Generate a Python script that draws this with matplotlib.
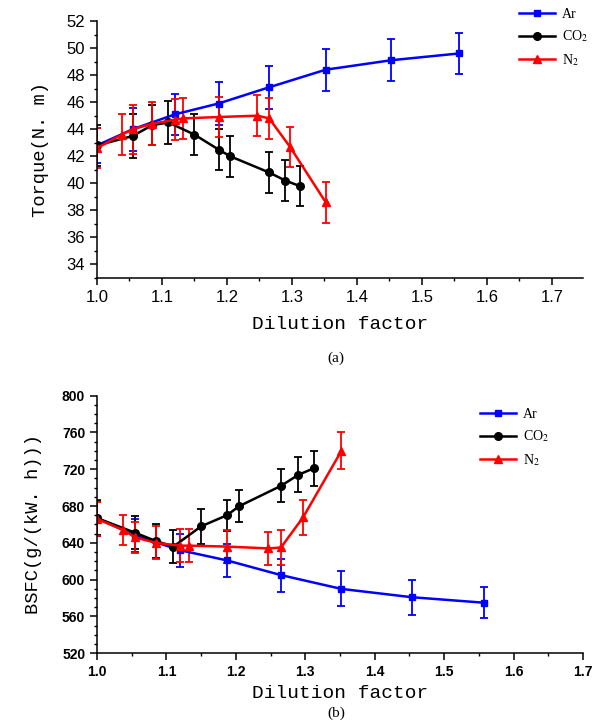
import matplotlib
matplotlib.use("Agg")
from matplotlib import pyplot as plt
from matplotlib.lines import Line2D
from matplotlib.ticker import MultipleLocator

plt.rcParams['mathtext.fontset'] = 'stix'

# (a) torque
ar_x = [1.0, 1.055, 1.12, 1.187, 1.265, 1.352, 1.453, 1.557]
ar_torque = [42.8, 44.0, 45.1, 45.9, 47.1, 48.4, 49.1, 49.6]
ar_torque_err = [1.3, 1.6, 1.5, 1.6, 1.6, 1.55, 1.55, 1.5]

co2_x = [1.0, 1.055, 1.085, 1.11, 1.15, 1.187, 1.205, 1.265, 1.29, 1.312]
co2_torque = [42.8, 43.5, 44.3, 44.5, 43.6, 42.5, 42.0, 40.8, 40.2, 39.8]
co2_torque_err = [1.5, 1.6, 1.5, 1.6, 1.5, 1.5, 1.5, 1.5, 1.5, 1.5]

n2_x = [1.0, 1.038, 1.055, 1.085, 1.12, 1.133, 1.187, 1.247, 1.265, 1.297, 1.352]
n2_torque = [42.6, 43.6, 44.0, 44.4, 44.7, 44.8, 44.9, 45.0, 44.8, 42.7, 38.6]
n2_torque_err = [1.5, 1.5, 1.8, 1.6, 1.5, 1.5, 1.5, 1.5, 1.5, 1.5, 1.5]

# (b) BSFC
ar_bsfc = [667, 648, 632, 621, 605, 590, 581, 575]
ar_bsfc_err = [20, 18, 18, 18, 18, 19, 19, 17]

co2_bsfc = [667, 651, 642, 636, 658, 670, 680, 702, 714, 721]
co2_bsfc_err = [18, 18, 18, 18, 19, 17, 17, 18, 19, 19]

n2_bsfc = [666, 654, 646, 640, 637, 637, 636, 634, 635, 668, 740]
n2_bsfc_err = [18, 16, 17, 18, 18, 18, 18, 18, 19, 19, 20]

series = [
    ("Ar", "#0000ff", "s", 4.5),
    ("CO$_2$", "black", "o", 5.5),
    ("N$_2$", "#ff0000", "^", 6),
]

label_font = dict(family="Liberation Mono", fontsize=14)


def draw(ax, xs, ys, errs):
    handles = []
    for (name, color, marker, ms), x, y, e in zip(series, xs, ys, errs):
        ax.errorbar(x, y, yerr=e, color=color, marker=marker, markersize=ms,
                    linewidth=1.8, elinewidth=1.3, capsize=3.2, capthick=1.3)
        handles.append(Line2D([], [], color=color, marker=marker,
                              markersize=ms, linewidth=1.8, label=name))
    for side in ("top", "right"):
        ax.spines[side].set_visible(False)
    for side in ("left", "bottom"):
        ax.spines[side].set_linewidth(1.1)
    ax.tick_params(which="major", direction="out", length=5, width=1.1)
    ax.tick_params(which="minor", direction="out", length=2.5, width=1.0)
    ax.xaxis.set_major_locator(MultipleLocator(0.1))
    ax.xaxis.set_minor_locator(MultipleLocator(0.05))
    return handles


def add_legend(ax, handles, x, y):
    ax.legend(handles=handles, loc="upper left", bbox_to_anchor=(x, y),
              bbox_transform=fig.transFigure, frameon=False, borderpad=0,
              borderaxespad=0, handlelength=2.6, handletextpad=0.5,
              labelspacing=0.55, numpoints=1,
              prop=dict(family="Liberation Serif", size=10))


fig = plt.figure(figsize=(5.92, 7.26), dpi=100)

ax1 = fig.add_axes([97 / 592, 1 - 278 / 726, 486 / 592, 257 / 726])
h = draw(ax1, [ar_x, co2_x, n2_x], [ar_torque, co2_torque, n2_torque],
         [ar_torque_err, co2_torque_err, n2_torque_err])
ax1.set_xlim(1.0, 1.748)
ax1.set_ylim(33, 52)
ax1.yaxis.set_major_locator(MultipleLocator(2))
ax1.yaxis.set_minor_locator(MultipleLocator(1))
ax1.set_yticks(range(34, 53, 2))
ax1.set_xlabel("Dilution factor", **label_font, labelpad=8)
ax1.set_ylabel("Torque(N. m)", fontsize=13.5, family="Liberation Mono",
               labelpad=13)
for lab in ax1.get_xticklabels() + ax1.get_yticklabels():
    lab.set_fontfamily("Liberation Sans")
    lab.set_fontsize(12)
add_legend(ax1, h, 519 / 592, 1 - 8 / 726)

ax2 = fig.add_axes([97 / 592, 1 - 653.3 / 726, 486 / 592, 257.6 / 726])
h = draw(ax2, [ar_x, co2_x, n2_x], [ar_bsfc, co2_bsfc, n2_bsfc],
         [ar_bsfc_err, co2_bsfc_err, n2_bsfc_err])
ax2.set_xlim(1.0, 1.7)
ax2.set_ylim(520, 800)
ax2.yaxis.set_major_locator(MultipleLocator(40))
ax2.yaxis.set_minor_locator(MultipleLocator(10))
ax2.set_xlabel("Dilution factor", **label_font, labelpad=4)
ax2.set_ylabel("BSFC(g/(kW. h)))", fontsize=13.5, family="Liberation Mono",
               labelpad=14)
for lab in ax2.get_xticklabels() + ax2.get_yticklabels():
    lab.set_fontfamily("Liberation Sans")
    lab.set_fontsize(10)
    lab.set_fontweight("bold")
add_legend(ax2, h, 480 / 592, 1 - 408 / 726)

fig.text(336 / 592, 1 - 358 / 726, "(a)", ha="center", va="center",
         family="Liberation Serif", fontsize=11)
fig.text(336 / 592, 1 - 713 / 726, "(b)", ha="center", va="center",
         family="Liberation Serif", fontsize=11)

fig.savefig("out.png", dpi=100)
